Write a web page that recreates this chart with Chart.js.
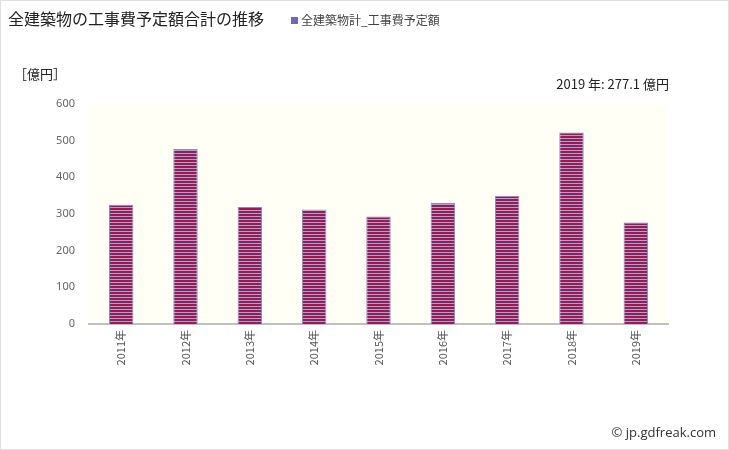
<!DOCTYPE html>
<html><head><meta charset="utf-8">
<script src="https://cdn.jsdelivr.net/npm/chart.js@4"></script>
<style>
html,body{margin:0;padding:0;background:#fff;}
#wrap{position:relative;width:729px;height:450px;box-sizing:border-box;border:1px solid #e0e0e0;overflow:hidden;font-family:"Noto Sans CJK JP","Noto Sans",sans-serif;}
#c{position:absolute;left:0;top:0;}
.t{position:absolute;white-space:nowrap;line-height:1;}
</style></head><body>
<div id="wrap">
<canvas id="c" width="729" height="450"></canvas>
<div class="t" id="title" style="left:7px;top:9px;font-size:16px;color:#222;">全建築物の工事費予定額合計の推移</div>
<div class="t" style="left:290px;top:13px;font-size:12px;color:#444;"><span style="display:inline-block;width:7px;height:7px;background:#6a6ab8;margin-right:3px;vertical-align:1px;"></span>全建築物計_工事費予定額</div>
<div class="t" style="left:13px;top:66px;font-size:13px;color:#222;">［億円］</div>
<div class="t" style="right:59px;top:76px;font-size:13px;color:#222;">2019 年: 277.1 億円</div>
<div class="t" style="right:12px;top:425px;font-size:13px;color:#333;font-family:'Open Sans','DejaVu Sans',sans-serif;">© jp.gdfreak.com</div>
</div>
<script>
const categories = ["2011年","2012年","2013年","2014年","2015年","2016年","2017年","2018年","2019年"];
const values = [325, 477, 319, 312, 293, 331, 349, 522, 277.1];
const yTicks = [0, 100, 200, 300, 400, 500, 600];

const pc = document.createElement('canvas');
pc.width = 4; pc.height = 3;
const px = pc.getContext('2d');
px.fillStyle = '#9a1c4e'; px.fillRect(0,0,4,2);
px.fillStyle = '#a4a4dc'; px.fillRect(0,2,4,1);
const ctx = document.getElementById('c').getContext('2d');
const pattern = ctx.createPattern(pc, 'repeat');

const bgPlugin = {
  id: 'plotbg',
  beforeDraw(chart) {
    const a = chart.chartArea, g = chart.ctx;
    g.save(); g.fillStyle = '#fffff5';
    g.fillRect(a.left, a.top, a.right - a.left, a.bottom - a.top);
    g.restore();
  }
};

new Chart(ctx, {
  type: 'bar',
  data: { labels: categories, datasets: [{ data: values, backgroundColor: pattern,
    borderColor: '#8a8acc', borderWidth: {left:1,right:1,top:1,bottom:0}, borderSkipped: false,
    categoryPercentage: 1, barPercentage: 0.38 }] },
  options: {
    responsive: false, animation: false,
    layout: { padding: { left: 0, top: 103, right: 62, bottom: 0 } },
    plugins: { legend: { display: false }, tooltip: { enabled: false } },
    scales: {
      x: {
        grid: { display: false, drawTicks: false },
        border: { display: true, color: '#c0c0c0', width: 2 },
        ticks: { color: '#555', font: { size: 11, family: 'Noto Sans CJK JP' }, minRotation: 90, maxRotation: 90, padding: 6 },
        afterFit(s) { s.height = 127; }
      },
      y: {
        min: 0, max: 600,
        afterBuildTicks(s) { s.ticks = yTicks.map(v => ({ value: v })); },
        grid: { display: false, drawTicks: false },
        border: { display: false },
        ticks: { color: '#666', font: { size: 11, family: 'Noto Sans' }, padding: 14 },
        afterFit(s) { s.width = 88; }
      }
    }
  },
  plugins: [bgPlugin]
});
</script>
</body></html>
